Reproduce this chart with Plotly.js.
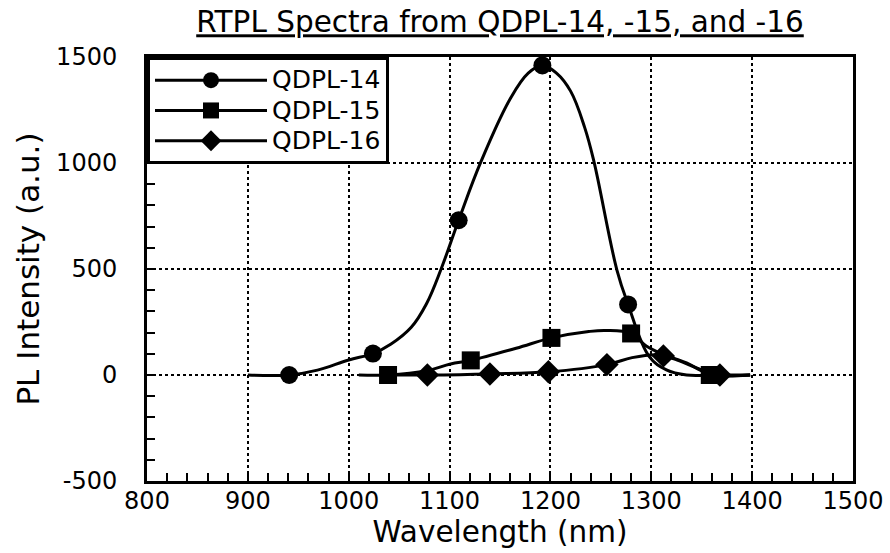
<!DOCTYPE html>
<html>
<head>
<meta charset="utf-8">
<script src="https://cdn.plot.ly/plotly-3.0.1.min.js"></script>
<style>html,body{margin:0;padding:0;background:#fff}</style>
</head>
<body>
<div id="chart" style="width:890px;height:553px"></div>
<script>
// ---- data ----
const seriesNames = ['QDPL-14', 'QDPL-15', 'QDPL-16'];

const q14Wavelength = [900, 941, 969, 1000, 1024, 1042, 1062, 1077, 1092, 1109, 1131, 1160, 1178, 1192, 1206, 1220, 1234, 1243, 1266, 1277, 1298, 1315, 1335, 1362, 1398];
const q14Intensity  = [0, 0, 23, 71, 101, 146, 225, 335, 505, 730, 1005, 1302, 1424, 1460, 1424, 1339, 1167, 1010, 494, 333, 87, 24, 0, 0, 0];
const q14Marked     = [1, 4, 9, 13, 19, 23];

const q15Wavelength = [1010, 1039, 1078, 1101, 1121, 1166, 1201, 1238, 1255, 1280, 1295, 1312, 1335, 1348, 1358, 1398];
const q15Intensity  = [0, 0, 21, 52, 69, 126, 175, 205, 210, 196, 137, 97, 57, 24, 0, 0];
const q15Marked     = [1, 4, 6, 9, 14];

const q16Wavelength = [1040, 1078, 1140, 1198, 1256, 1281, 1304, 1312, 1324, 1344, 1368, 1398];
const q16Intensity  = [0, 0, 5, 15, 49, 82, 96, 90, 74, 35, 0, 0];
const q16Marked     = [1, 2, 3, 4, 7, 10];

const xTickVals = [800, 900, 1000, 1100, 1200, 1300, 1400, 1500];
const xTickText = ['800', '900', '1000', '1100', '1200', '1300', '1400', '1500'];
const yTickVals = [-500, 0, 500, 1000, 1500];
const yTickText = ['-500', '0', '500', '1000', '1500'];

const symbols = ['circle', 'square', 'diamond'];

function makeTrace(name, x, y, marked, symbol) {
  return {
    type: 'scatter',
    mode: 'lines+markers',
    name: '<span style="font-size:25px">' + name + '</span>',
    x: x,
    y: y,
    line: {color: 'black', width: 3, shape: 'spline', smoothing: 1.1},
    marker: {symbol: symbol, size: 18, color: 'black'},
    selectedpoints: marked,
    selected: {marker: {opacity: 1}},
    unselected: {marker: {opacity: 0}}
  };
}

const data = [
  makeTrace(seriesNames[0], q14Wavelength, q14Intensity, q14Marked, symbols[0]),
  makeTrace(seriesNames[1], q15Wavelength, q15Intensity, q15Marked, symbols[1]),
  makeTrace(seriesNames[2], q16Wavelength, q16Intensity, q16Marked, symbols[2])
];

const axisCommon = {
  ticks: 'inside', ticklen: 9, tickwidth: 2, tickcolor: 'black',
  showline: true, linewidth: 3, linecolor: 'black', mirror: true,
  showgrid: true, gridcolor: 'black', griddash: 'dot', gridwidth: 2,
  zeroline: false,
  tickfont: {size: 24, color: 'black'}
};

const layout = {
  width: 890, height: 553,
  margin: {l: 147, r: 37, t: 57, b: 72},
  paper_bgcolor: 'white', plot_bgcolor: 'white',
  font: {family: '"DejaVu Sans", Arial, sans-serif', color: 'black'},
  title: {
    text: 'RTPL Spectra from QDPL-14, -15, and -16',
    font: {size: 29.5, color: 'black', lineposition: 'under'},
    x: 0.5, xref: 'paper', xanchor: 'center',
    y: 1 - 22 / 553, yref: 'container', yanchor: 'middle'
  },
  xaxis: Object.assign({}, axisCommon, {
    range: [800, 1500], tickmode: 'array', tickvals: xTickVals, ticktext: xTickText,
    ticklabelstandoff: -4,
    minor: {dtick: 20, ticks: 'inside', ticklen: 8, tickwidth: 2, tickcolor: 'black', showgrid: false},
    title: {text: 'Wavelength (nm)', font: {size: 29.5}, standoff: 6}
  }),
  yaxis: Object.assign({}, axisCommon, {
    range: [-500, 1500], tickmode: 'array', tickvals: yTickVals, ticktext: yTickText,
    minor: {dtick: 100, ticks: 'inside', ticklen: 8, tickwidth: 2, tickcolor: 'black', showgrid: false},
    ticklabelstandoff: 22,
    title: {text: 'PL Intensity (a.u.)', font: {size: 31}, standoff: 8}
  }),
  showlegend: true,
  legend: {
    x: 0, y: 1, xanchor: 'left', yanchor: 'top',
    bgcolor: 'white', bordercolor: 'black', borderwidth: 3,
    font: {size: 21, color: 'black'},
    itemwidth: 112, tracegroupgap: 0
  }
};

Plotly.newPlot('chart', data, layout, {displayModeBar: false, staticPlot: true});
</script>
</body>
</html>
